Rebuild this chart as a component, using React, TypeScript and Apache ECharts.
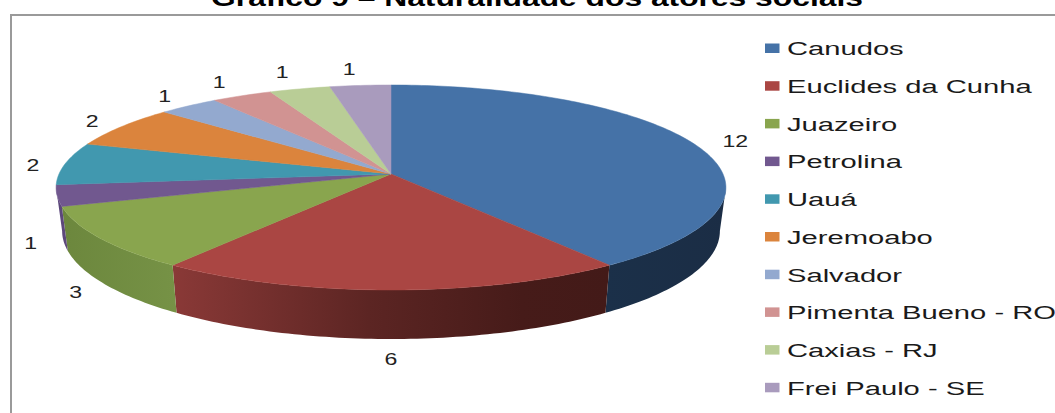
import React, { useEffect, useRef } from "react";
import * as echarts from "echarts";

const titleText = "Gráfico 9 – Naturalidade dos atores sociais";
const categories = [
  "Canudos",
  "Euclides da Cunha",
  "Juazeiro",
  "Petrolina",
  "Uauá",
  "Jeremoabo",
  "Salvador",
  "Pimenta Bueno - RO",
  "Caxias - RJ",
  "Frei Paulo - SE",
];
const values = [12, 6, 3, 1, 2, 2, 1, 1, 1, 1];
const topColors = ["#4572a7", "#aa4643", "#89a54e", "#71588f", "#4198af", "#db843d", "#93a9cf", "#d19392", "#b9cd96", "#a99bbd"];
const sideStops: [number, string][][] = [
  [[0, "#1b3049"], [1, "#1b2d45"]],
  [[0, "#8a3937"], [0.45, "#5c2523"], [0.8, "#461b19"], [1, "#431a18"]],
  [[0, "#6c873d"], [1, "#769246"]],
  [[0, "#59457a"], [1, "#5f4a7c"]],
  [[0, "#33788b"], [1, "#33788b"]],
  [[0, "#ad6830"], [1, "#ad6830"]],
  [[0, "#7486a4"], [1, "#7486a4"]],
  [[0, "#a57473"], [1, "#a57473"]],
  [[0, "#929f77"], [1, "#929f77"]],
  [[0, "#867a96"], [1, "#867a96"]],
];
const labelNudges = [[6, 1], [0, 7], [14, 0], [15, -1], [6, 3], [1, 0], [-2, -2], [-7, -5], [-8, -8], [-8, -7]];

const CX = 391, CY = 174, A = 332, B = 100.7, K = 0.1316;
const total = values.reduce((s, v) => s + v, 0);
const project = (deg: number, r = 1) => {
  const t = (deg * Math.PI) / 180;
  const u = r * Math.sin(t), v = -r * Math.cos(t);
  const w = 1 - K * v;
  return [CX + (A * u) / w, CY + (B * v) / w];
};
const lower = (p: number[]) => [
  CX + 0.982 * (p[0] - CX),
  p[1] + 44.5 + 0.054 * (p[1] - 206),
];
const EDGE_R = 97.6, EDGE_L = 262.4;

function renderSlice(params: any) {
  const i = params.dataIndex;
  const before = values.slice(0, i).reduce((s, v) => s + v, 0);
  const a0 = (before / total) * 360;
  const a1 = ((before + values[i]) / total) * 360;
  const arc: number[][] = [];
  const steps = Math.max(2, Math.ceil(a1 - a0));
  for (let k = 0; k <= steps; k++) arc.push(project(a0 + ((a1 - a0) * k) / steps));
  const children: any[] = [];
  const s0 = Math.max(a0, EDGE_R), s1 = Math.min(a1, EDGE_L);
  if (s1 > s0) {
    const up: number[][] = [];
    const n = Math.ceil(s1 - s0);
    for (let k = 0; k <= n; k++) up.push(project(s0 + ((s1 - s0) * k) / n));
    const down = up.map(lower).reverse();
    const stops = sideStops[i].map(([offset, color]) => ({ offset, color }));
    const flip = up[0][0] > up[up.length - 1][0];
    const fill = new echarts.graphic.LinearGradient(
      flip ? 0 : 1, 0, flip ? 1 : 0, 0,
      stops
    );
    children.push({
      type: "polygon",
      shape: { points: up.concat(down) },
      style: { fill, stroke: "none" },
    });
  }
  children.push({
    type: "polygon",
    shape: { points: [[CX, CY], ...arc] },
    style: { fill: topColors[i], stroke: topColors[i], lineWidth: 0.5 },
  });
  const mid = (a0 + a1) / 2;
  const lp = project(mid, 1.12);
  const front = mid > 90 && mid < 270;
  children.push({
    type: "text",
    x: lp[0] + labelNudges[i][0],
    y: lp[1] + (front ? 46 : 0) + labelNudges[i][1],
    scaleX: 1.4,
    style: {
      text: String(values[i]),
      x: 0,
      y: 0,
      align: "center",
      verticalAlign: "middle",
      fontFamily: "Liberation Sans",
      fontSize: 16.5,
      fill: "#222222",
    },
  });
  return { type: "group", children };
}

export default function App() {
  const ref = useRef<HTMLDivElement>(null);
  useEffect(() => {
    document.body.style.margin = "0";
    const chart = echarts.init(ref.current!, undefined, { renderer: "svg" });
    const legendItems: any[] = [];
    categories.forEach((name, i) => {
      const y = 48 + 37.7 * i;
      legendItems.push({
        type: "rect",
        shape: { x: 765, y: y - 4.5, width: 14.5, height: 9.5 },
        style: { fill: topColors[i] },
      });
      legendItems.push({
        type: "text",
        x: 787,
        y: y + 1,
        scaleX: 1.62,
        style: {
          text: name,
          x: 0,
          y: 0,
          align: "left",
          verticalAlign: "middle",
          fontFamily: "Liberation Sans",
          fontSize: 18,
          fill: "#1a1a1a",
        },
      });
    });
    chart.setOption({
      animation: false,
      backgroundColor: "#ffffff",
      graphic: [
        { type: "rect", shape: { x: 10, y: 14, width: 1045, height: 2 }, style: { fill: "#9a9a9a" } },
        { type: "rect", shape: { x: 10, y: 14, width: 2, height: 399 }, style: { fill: "#9a9a9a" } },
        {
          type: "text",
          x: 537,
          y: 9,
          scaleX: 1.325,
          style: {
            text: titleText,
            x: 0,
            y: 0,
            align: "center",
            verticalAlign: "bottom",
            fontFamily: "Liberation Sans",
            fontWeight: "bold",
            fontSize: 24,
            fill: "#000000",
          },
        },
        ...legendItems,
      ],
      series: [
        {
          type: "custom",
          coordinateSystem: "none",
          silent: true,
          data: values,
          renderItem: renderSlice,
        },
      ],
    });
    return () => chart.dispose();
  }, []);
  return <div ref={ref} style={{ width: 1055, height: 413 }} />;
}
